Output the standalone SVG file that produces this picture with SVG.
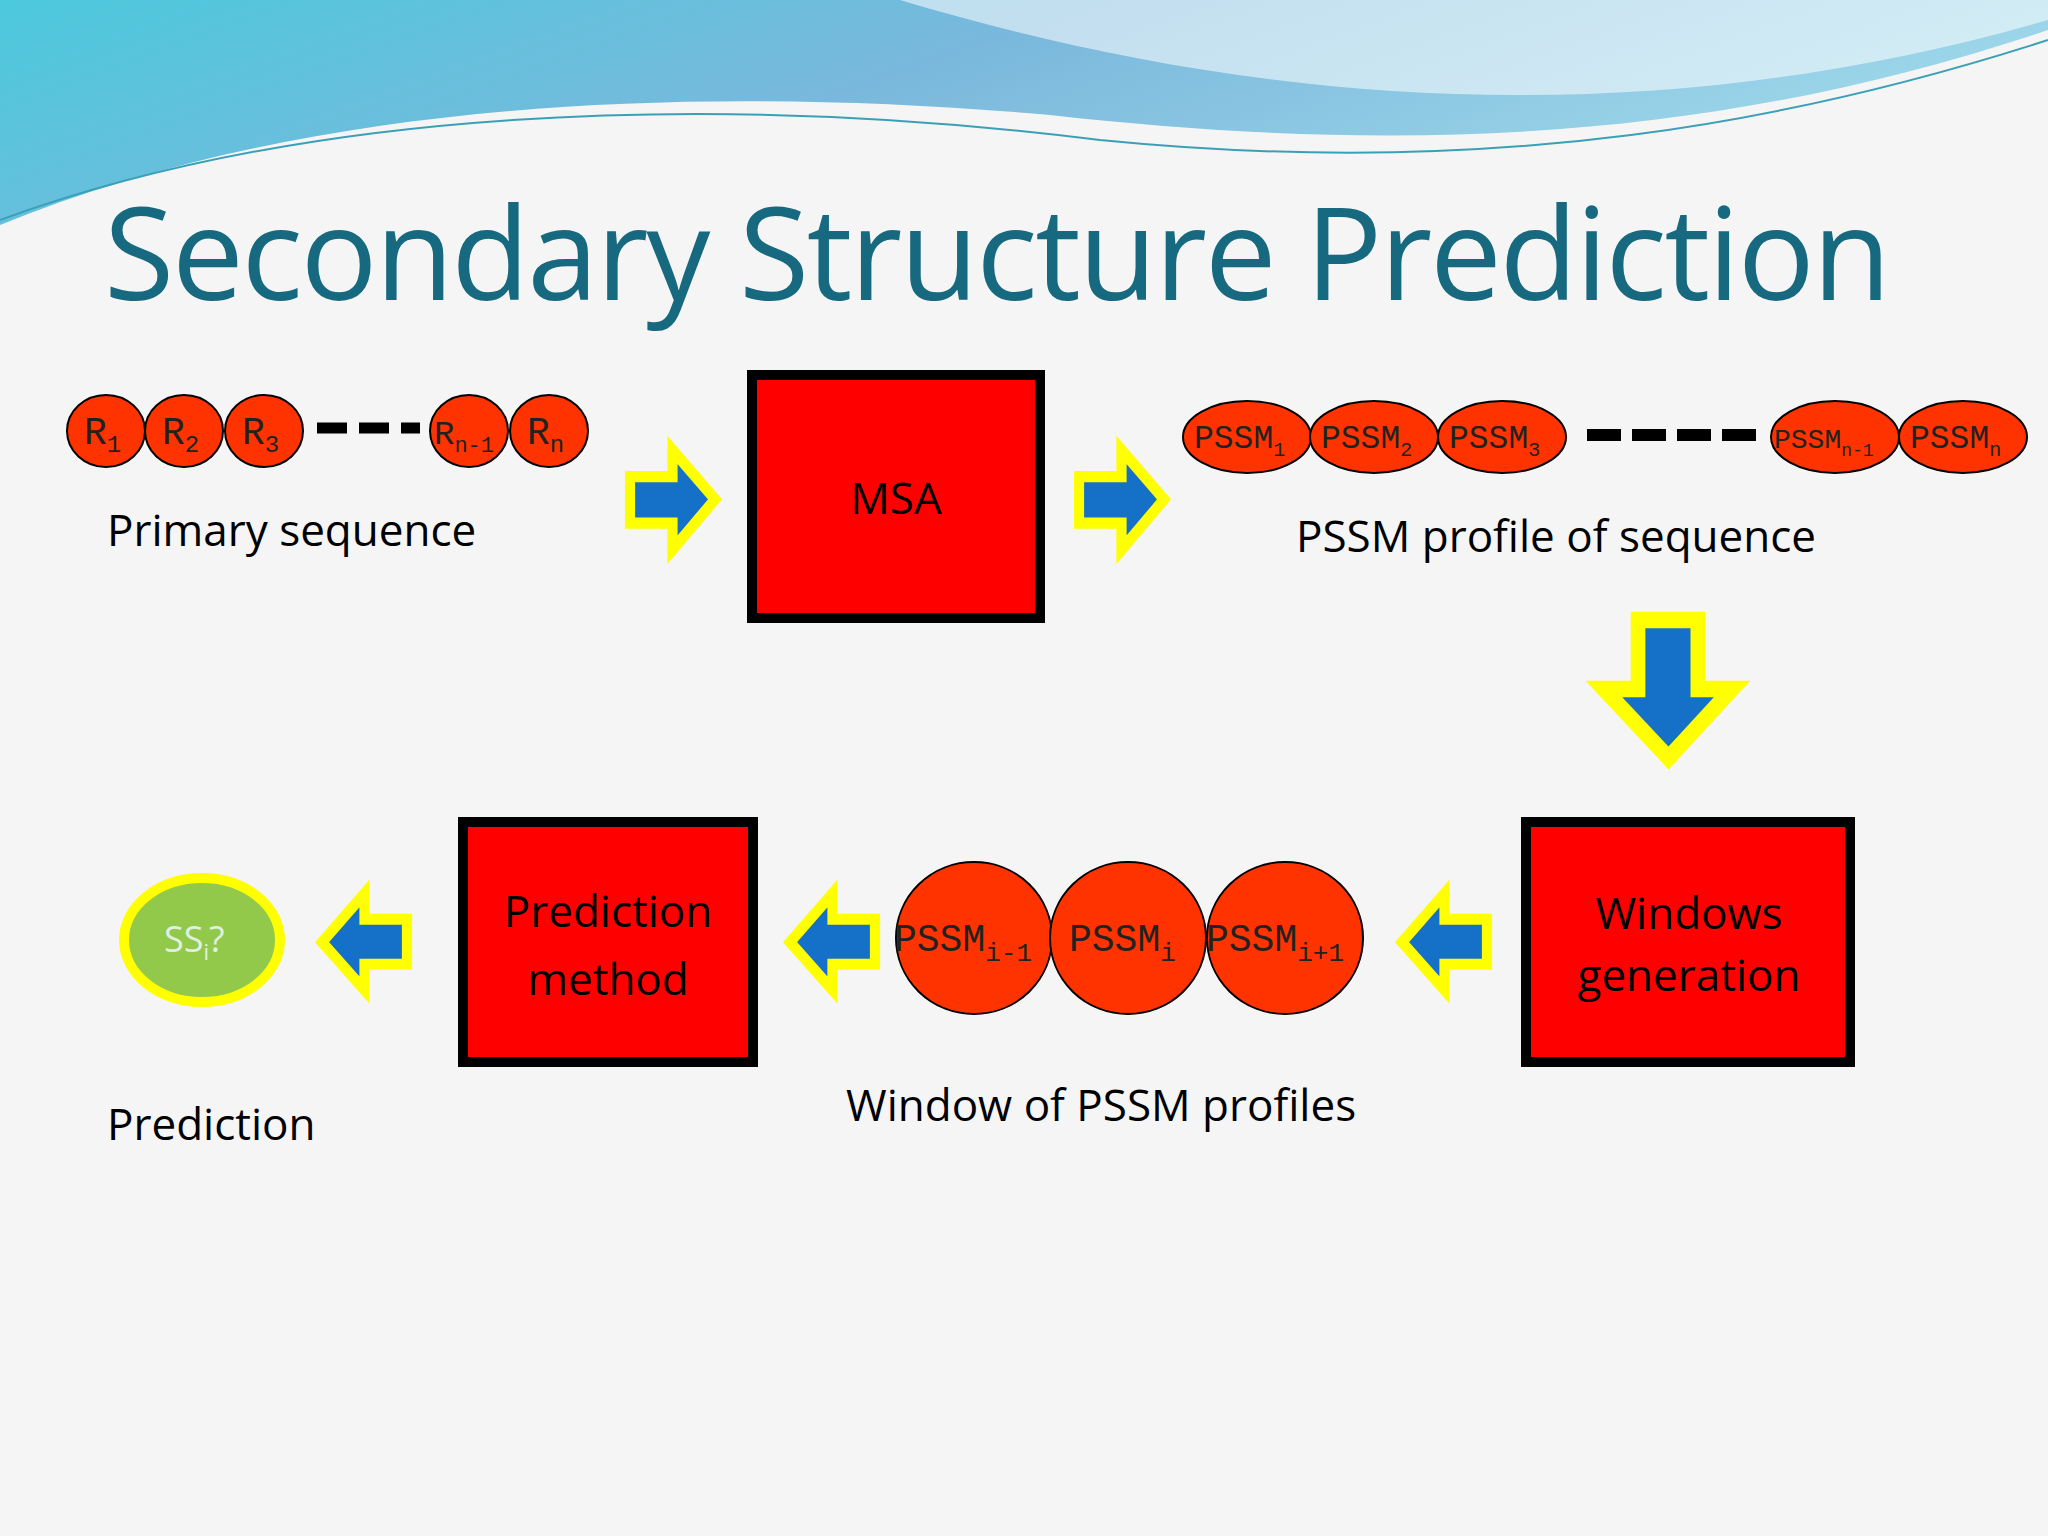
<svg xmlns="http://www.w3.org/2000/svg" width="2048" height="1536" viewBox="0 0 2048 1536">
<defs>
<linearGradient id="wave" x1="0" y1="0" x2="1" y2="0.3">
<stop offset="0" stop-color="#4cc9dc"/>
<stop offset="0.5" stop-color="#7ab8dc"/>
<stop offset="1" stop-color="#9fd8ea"/>
</linearGradient>
<path id="arr" d="M0,28 H50 V0 L100,52 L50,105 V77 H0 Z"/>
<style>
.res{fill:#ff3300;stroke:#000;stroke-width:2}
.mono{font-family:"Liberation Mono",monospace;fill:#222}
.lbl{font-family:"Open Sans","Liberation Sans",sans-serif;font-size:44px;fill:#000}
.box{fill:#ff0000;stroke:#000;stroke-width:10}
.ar{fill:#1570c8;stroke:#ffff00;stroke-width:12;stroke-linejoin:miter}
.dash{stroke:#000;stroke-width:11;stroke-dasharray:30,12}
</style>
</defs>
<rect width="2048" height="1536" fill="#f5f5f5"/>
<path d="M0,0 H2048 V30 C1750,130 1450,160 1050,115 C650,80 280,110 0,225 Z" fill="url(#wave)"/>
<path d="M900,0 C1200,90 1600,150 2048,20 V0 Z" fill="#ffffff" opacity="0.55"/>
<path d="M0,220 C300,110 700,90 1100,140 C1500,180 1800,120 2048,40" fill="none" stroke="#3aa0b8" stroke-width="2"/>
<text x="104" y="300" font-family="Open Sans, Liberation Sans, sans-serif" font-size="128" fill="#17697f" textLength="1787">Secondary Structure Prediction</text>

<g id="primary">
<ellipse class="res" cx="106" cy="431" rx="39" ry="36"/>
<ellipse class="res" cx="184" cy="431" rx="39" ry="36"/>
<ellipse class="res" cx="264" cy="431" rx="39" ry="36"/>
<ellipse class="res" cx="469" cy="431" rx="39" ry="36"/>
<ellipse class="res" cx="549" cy="431" rx="39" ry="36"/>
<text class="mono" font-size="38" x="84" y="444">R<tspan font-size="24" dy="8">1</tspan></text>
<text class="mono" font-size="38" x="162" y="444">R<tspan font-size="24" dy="8">2</tspan></text>
<text class="mono" font-size="38" x="242" y="444">R<tspan font-size="24" dy="8">3</tspan></text>
<text class="mono" font-size="34" x="434" y="444">R<tspan font-size="22" dy="8">n-1</tspan></text>
<text class="mono" font-size="38" x="527" y="444">R<tspan font-size="24" dy="8">n</tspan></text>
<line class="dash" x1="317" y1="428" x2="420" y2="428"/>
<text class="lbl" x="107" y="546">Primary sequence</text>
</g>

<g id="msa">
<rect class="box" x="752" y="375" width="288" height="243"/>
<text class="lbl" x="896" y="514" text-anchor="middle">MSA</text>
</g>

<g id="pssm">
<ellipse class="res" cx="1247" cy="437" rx="64" ry="36"/>
<ellipse class="res" cx="1374" cy="437" rx="64" ry="36"/>
<ellipse class="res" cx="1502" cy="437" rx="64" ry="36"/>
<ellipse class="res" cx="1835" cy="437" rx="64" ry="36"/>
<ellipse class="res" cx="1963" cy="437" rx="64" ry="36"/>
<text class="mono" font-size="33" x="1194" y="448">PSSM<tspan font-size="20" dy="8">1</tspan></text>
<text class="mono" font-size="33" x="1321" y="448">PSSM<tspan font-size="20" dy="8">2</tspan></text>
<text class="mono" font-size="33" x="1449" y="448">PSSM<tspan font-size="20" dy="8">3</tspan></text>
<text class="mono" font-size="28" x="1774" y="448">PSSM<tspan font-size="18" dy="8">n-1</tspan></text>
<text class="mono" font-size="33" x="1910" y="448">PSSM<tspan font-size="20" dy="8">n</tspan></text>
<line x1="1587" y1="435" x2="1756" y2="435" stroke="#000" stroke-width="12" stroke-dasharray="34,11"/>
<text class="lbl" x="1296" y="552">PSSM profile of sequence</text>
</g>

<g id="windows">
<rect class="box" x="1526" y="822" width="324" height="240"/>
<text class="lbl" font-size="46" x="1689" y="929" text-anchor="middle">Windows</text>
<text class="lbl" font-size="46" x="1689" y="991" text-anchor="middle">generation</text>
</g>

<g id="window">
<ellipse class="res" cx="974" cy="938" rx="78" ry="76"/>
<ellipse class="res" cx="1128" cy="938" rx="78" ry="76"/>
<ellipse class="res" cx="1285" cy="938" rx="78" ry="76"/>
<text class="mono" font-size="38" x="894" y="951">PSSM<tspan font-size="26" dy="10">i-1</tspan></text>
<text class="mono" font-size="38" x="1069" y="951">PSSM<tspan font-size="26" dy="10">i</tspan></text>
<text class="mono" font-size="38" x="1206" y="951">PSSM<tspan font-size="26" dy="10">i+1</tspan></text>
<text class="lbl" x="846" y="1121">Window of PSSM profiles</text>
</g>

<g id="method">
<rect class="box" x="463" y="822" width="290" height="240"/>
<text class="lbl" font-size="52" x="608" y="927" text-anchor="middle">Prediction</text>
<text class="lbl" font-size="52" x="608" y="995" text-anchor="middle">method</text>
</g>

<g id="ss">
<ellipse cx="202" cy="940" rx="78" ry="62" fill="#92c94b" stroke="#ffff00" stroke-width="10"/>
<text font-family="Open Sans, Liberation Sans, sans-serif" font-size="36" fill="#e0f0e0" x="164" y="952">SS<tspan font-size="22" dy="8">i</tspan><tspan dy="-8">?</tspan></text>
<text class="lbl" x="107" y="1140">Prediction</text>
</g>

<g id="connectors">
<use href="#arr" class="ar" transform="translate(630,450) scale(0.85,0.95)"/>
<use href="#arr" class="ar" transform="translate(1079,450) scale(0.85,0.95)"/>
<use href="#arr" class="ar" transform="translate(1732,620) rotate(90) scale(1.38,1.22)"/>
<use href="#arr" class="ar" transform="translate(1487,990) rotate(180) scale(0.85,0.92)"/>
<use href="#arr" class="ar" transform="translate(875,990) rotate(180) scale(0.85,0.92)"/>
<use href="#arr" class="ar" transform="translate(407,990) rotate(180) scale(0.85,0.92)"/>
</g>
</svg>
